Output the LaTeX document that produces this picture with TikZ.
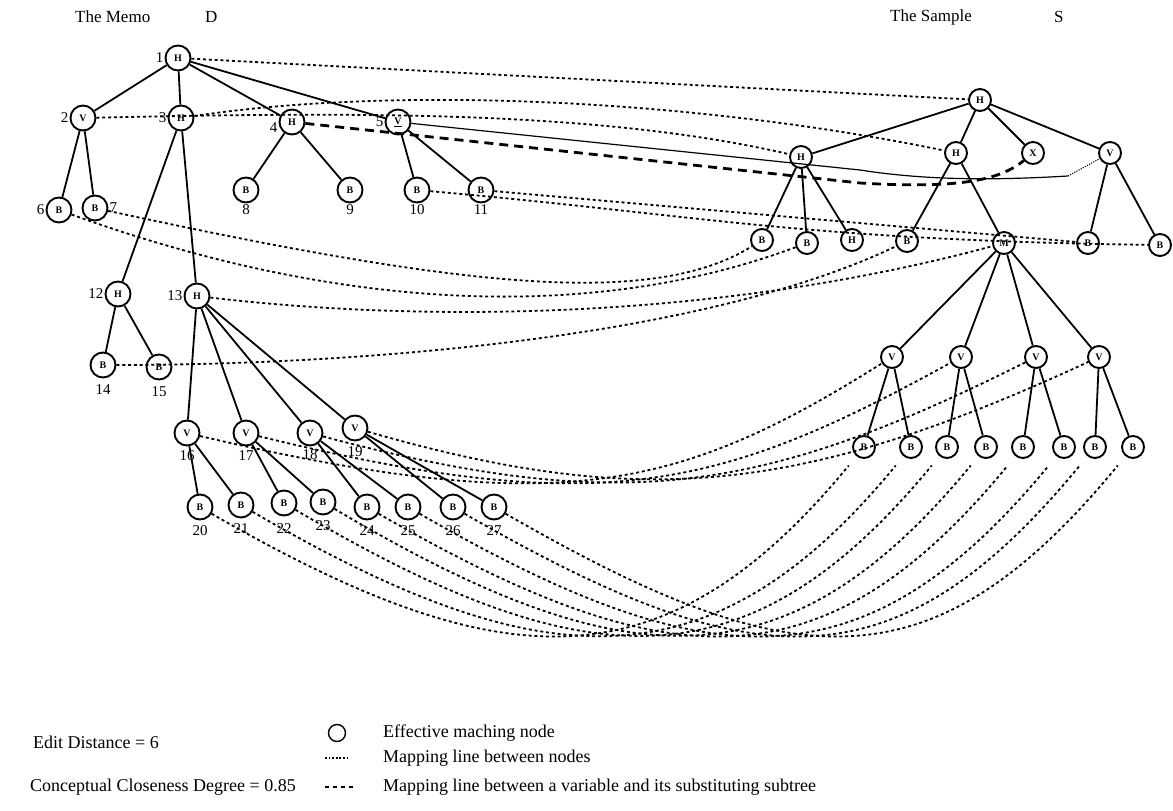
\documentclass[tikz,border=0pt]{standalone}
\usepackage{fontspec}
\setmainfont{Liberation Serif}
\usetikzlibrary{positioning}
\tikzset{
  memo/.style={circle, draw, line width=1.9pt, minimum size=25pt, inner sep=0pt, font=\fontsize{10}{10}\selectfont\bfseries},
  sample/.style={circle, draw, line width=1.9pt, minimum size=22pt, inner sep=0pt, font=\fontsize{10}{10}\selectfont\bfseries},
  treeline/.style={line width=1.8pt},
  mapline/.style={line width=1.8pt, dash pattern=on 3pt off 2.8pt},
  subline/.style={line width=2.8pt, dash pattern=on 9pt off 6pt},
  num/.style={font=\fontsize{15}{15}\selectfont, inner sep=1pt},
  head/.style={font=\fontsize{17}{17}\selectfont, anchor=west, inner sep=0pt},
  legend/.style={font=\fontsize{18}{18}\selectfont, anchor=west, inner sep=0pt}
}

\begin{document}
\begin{tikzpicture}[x=1pt, y=-1pt]
\useasboundingbox (0,0) rectangle (1173,811);

% titles
\node[head] (memotitle) at (75,17) {The Memo};
\node[head] (memoD) at (205,17) {D};
\node[head] (sampletitle) at (890,17) {The Sample};
\node[head] (sampleS) at (1054,17) {S};

% the memo tree D
\node[memo, label={[num]left:1}] (m1) at (178,58) {H};
\node[memo, label={[num]left:2}] (m2) at (83,118) {V};
\node[memo, label={[num]left:3}] (m3) at (181,118) {H};
\node[memo, label={[num,yshift=-6pt]left:4}] (m4) at (292,122) {H};
\node[memo, label={[num]left:5}] (m5) at (398,122) {\underline{V}};
\node[memo, label={[num]left:6}] (m6) at (59,210) {B};
\node[memo, label={[num]right:7}] (m7) at (95,208) {B};
\node[memo, label={[num]below:8}] (m8) at (246,190) {B};
\node[memo, label={[num]below:9}] (m9) at (350,190) {B};
\node[memo, label={[num]below:10}] (m10) at (417,190) {B};
\node[memo, label={[num]below:11}] (m11) at (481,190) {B};
\node[memo, label={[num]left:12}] (m12) at (118,294) {H};
\node[memo, label={[num]left:13}] (m13) at (197,296) {H};
\node[memo, label={[num,label distance=5pt]below:14}] (m14) at (103,365) {B};
\node[memo, label={[num,label distance=5pt]below:15}] (m15) at (159,367) {B};
\node[memo, label={[num,label distance=3pt]below:16}] (m16) at (187,433) {V};
\node[memo, label={[num,label distance=3pt]below:17}] (m17) at (246,433) {V};
\node[memo, label={[num,label distance=2pt]below:18}] (m18) at (310,433) {V};
\node[memo, label={[num,label distance=4pt]below:19}] (m19) at (355,428) {V};
\node[memo, label={[num,label distance=4pt]below:20}] (m20) at (200,507) {B};
\node[memo, label={[num,label distance=4pt]below:21}] (m21) at (241,505) {B};
\node[memo, label={[num,label distance=6pt]below:22}] (m22) at (284,503) {B};
\node[memo, label={[num,label distance=4pt]below:23}] (m23) at (323,502) {B};
\node[memo, label={[num,label distance=4pt]below:24}] (m24) at (367,507) {B};
\node[memo, label={[num,label distance=4pt]below:25}] (m25) at (408,507) {B};
\node[memo, label={[num,label distance=4pt]below:26}] (m26) at (453,507) {B};
\node[memo, label={[num,label distance=4pt]below:27}] (m27) at (494,507) {B};

\draw[treeline] (m1) -- (m2);
\draw[treeline] (m1) -- (m3);
\draw[treeline] (m1) -- (m4);
\draw[treeline] (m1) -- (m5);
\draw[treeline] (m2) -- (m6);
\draw[treeline] (m2) -- (m7);
\draw[treeline] (m3) -- (m12);
\draw[treeline] (m3) -- (m13);
\draw[treeline] (m4) -- (m8);
\draw[treeline] (m4) -- (m9);
\draw[treeline] (m5) -- (m10);
\draw[treeline] (m5) -- (m11);
\draw[treeline] (m12) -- (m14);
\draw[treeline] (m12) -- (m15);
\draw[treeline] (m13) -- (m16);
\draw[treeline] (m13) -- (m17);
\draw[treeline] (m13) -- (m18);
\draw[treeline] (m13) -- (m19);
\draw[treeline] (m16) -- (m20);
\draw[treeline] (m16) -- (m21);
\draw[treeline] (m17) -- (m22);
\draw[treeline] (m17) -- (m23);
\draw[treeline] (m18) -- (m24);
\draw[treeline] (m18) -- (m25);
\draw[treeline] (m19) -- (m26);
\draw[treeline] (m19) -- (m27);

% the sample tree S
\node[sample] (sRoot) at (980,100) {H};
\node[sample] (sA) at (801,157) {H};
\node[sample] (sH) at (956,153) {H};
\node[sample] (sX) at (1033,153) {X};
\node[sample] (sV) at (1110,153) {V};
\node[sample] (sA1) at (762,240) {B};
\node[sample] (sA2) at (807,243) {B};
\node[sample] (sA3) at (852,240) {H};
\node[sample] (sH1) at (907,241) {B};
\node[sample] (sM) at (1004,243) {M};
\node[sample] (sV1) at (1088,243) {B};
\node[sample] (sV2) at (1160,245) {B};
\node[sample] (sv1) at (892,357) {V};
\node[sample] (sv2) at (961,357) {V};
\node[sample] (sv3) at (1036,357) {V};
\node[sample] (sv4) at (1099,357) {V};
\node[sample] (sb1) at (864,447) {B};
\node[sample] (sb2) at (911,447) {B};
\node[sample] (sb3) at (947,447) {B};
\node[sample] (sb4) at (986,447) {B};
\node[sample] (sb5) at (1023,447) {B};
\node[sample] (sb6) at (1064,447) {B};
\node[sample] (sb7) at (1095,447) {B};
\node[sample] (sb8) at (1133,447) {B};

\draw[treeline] (sRoot) -- (sA);
\draw[treeline] (sRoot) -- (sH);
\draw[treeline] (sRoot) -- (sX);
\draw[treeline] (sRoot) -- (sV);
\draw[treeline] (sA) -- (sA1);
\draw[treeline] (sA) -- (sA2);
\draw[treeline] (sA) -- (sA3);
\draw[treeline] (sH) -- (sH1);
\draw[treeline] (sH) -- (sM);
\draw[treeline] (sV) -- (sV1);
\draw[treeline] (sV) -- (sV2);
\draw[treeline] (sM) -- (sv1);
\draw[treeline] (sM) -- (sv2);
\draw[treeline] (sM) -- (sv3);
\draw[treeline] (sM) -- (sv4);
\draw[treeline] (sv1) -- (sb1);
\draw[treeline] (sv1) -- (sb2);
\draw[treeline] (sv2) -- (sb3);
\draw[treeline] (sv2) -- (sb4);
\draw[treeline] (sv3) -- (sb5);
\draw[treeline] (sv3) -- (sb6);
\draw[treeline] (sv4) -- (sb7);
\draw[treeline] (sv4) -- (sb8);

% mapping lines, upper part
\draw[mapline] (m1) -- (sRoot);
\draw[mapline] (m3) .. controls (400,85) and (700,100) .. (sH);
\draw[mapline] (m2) .. controls (350,112) and (600,110) .. (sA);
\coordinate (sVin) at (1068,176);
\draw[line width=1.2pt] (m5) -- (860,170) .. controls (930,181) and (1000,180) .. (sVin);
\draw[line width=1pt, dash pattern=on 1.2pt off 1.2pt] (sVin) -- (sV);
\draw[subline] (m4) -- (860,183) .. controls (960,189) and (1000,180) .. (sX);
\draw[mapline] (m11) -- (sV1);
\draw[mapline] (m10) .. controls (700,215) and (800,240) .. (sV2);
\draw[mapline] (m7) .. controls (450,285) and (650,310) .. (sA1);
\draw[mapline] (m6) .. controls (350,315) and (600,320) .. (sA2);
\draw[mapline] (m13) .. controls (400,320) and (700,325) .. (sM);
\draw[mapline] (m14) .. controls (350,365) and (700,340) .. (sH1);

% mapping lines, variables
\draw[mapline] (m16) .. controls (560,520) and (680,490) .. (sv1);
\draw[mapline] (m17) .. controls (600,520) and (720,490) .. (sv2);
\draw[mapline] (m18) .. controls (620,515) and (760,495) .. (sv3);
\draw[mapline] (m19) .. controls (640,510) and (800,495) .. (sv4);

% mapping lines, leaves
\draw[mapline, shorten >=12pt] (m20) .. controls (500,680) and (664,690) .. (sb1);
\draw[mapline, shorten >=12pt] (m21) .. controls (541,680) and (711,690) .. (sb2);
\draw[mapline, shorten >=12pt] (m22) .. controls (584,680) and (747,690) .. (sb3);
\draw[mapline, shorten >=12pt] (m23) .. controls (623,680) and (786,690) .. (sb4);
\draw[mapline, shorten >=12pt] (m24) .. controls (667,680) and (823,690) .. (sb5);
\draw[mapline, shorten >=12pt] (m25) .. controls (708,680) and (864,690) .. (sb6);
\draw[mapline, shorten >=12pt] (m26) .. controls (753,680) and (895,690) .. (sb7);
\draw[mapline, shorten >=12pt] (m27) .. controls (794,680) and (933,690) .. (sb8);

% legend
\node[sample, minimum size=17pt, line width=1.4pt] (legcircle) at (337,733) {};
\node[legend] (legnode) at (383,733) {Effective maching node};
\node[legend] (editdist) at (33,742) {Edit Distance = 6};
\coordinate (dotstart) at (325,758);
\coordinate (dotend) at (350,758);
\draw[line width=1.2pt, dash pattern=on 1.8pt off 1.8pt] (dotstart) -- (dotend);
\node[legend] (legmap) at (383,758) {Mapping line between nodes};
\node[legend] (closeness) at (30,787) {Conceptual Closeness Degree = 0.85};
\coordinate (dashstart) at (325,787);
\coordinate (dashend) at (353,787);
\draw[line width=1.3pt, dash pattern=on 4pt off 4pt] (dashstart) -- (dashend);
\node[legend] (legsub) at (383,787) {Mapping line between a variable and its substituting subtree};
\end{tikzpicture}
\end{document}
